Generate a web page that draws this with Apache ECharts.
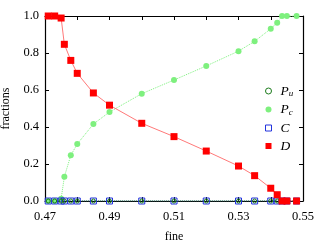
<!DOCTYPE html>
<html><head><meta charset="utf-8">
<script src="https://cdn.jsdelivr.net/npm/echarts@6/dist/echarts.min.js"></script>
<style>html,body{margin:0;padding:0;background:#fff}#c{width:316px;height:244px}</style>
</head><body><div id="c"></div>
<script>
const fine = [0.471,0.473,0.475,0.476,0.478,0.480,0.485,0.490,0.500,0.510,0.520,0.530,0.535,0.540,0.542,0.5435,0.545,0.548];
const Pu = [0,0,0,0,0,0,0,0,0,0,0,0,0,0,0,0,0,0];
const Pc = [0,0,0.012,0.131,0.247,0.308,0.416,0.481,0.580,0.654,0.730,0.810,0.863,0.931,0.964,1,1,1];
const C  = [0,0,0,0,0,0,0,0,0,0,0,0,0,0,0,0,0,0];
const D  = [1,1,0.989,0.847,0.760,0.690,0.584,0.518,0.420,0.348,0.270,0.189,0.137,0.069,0.034,0,0,0];
const xLabels = ['0.47','0.49','0.51','0.53','0.55'];
const yLabels = ['0.0','0.2','0.4','0.6','0.8','1.0'];

const pair = a => fine.map((x,i)=>[x,a[i]]);
const font = 'Liberation Serif';
const sq = 'path://M0,0L10,0L10,10L0,10Z';
const chart = echarts.init(document.getElementById('c'));
const axisCommon = {
  axisLine:{show:true,onZero:false,lineStyle:{color:'#000',width:1.2}},
  axisTick:{show:true,inside:true,length:4,lineStyle:{color:'#000'}},
  splitLine:{show:false}
};
chart.setOption({
  animation:false,
  grid:{left:45,right:13,top:16,bottom:43,outerBoundsMode:'none',containLabel:false},
  xAxis:[
    Object.assign({type:'value',position:'bottom',min:0.47,max:0.55,interval:0.01,
      name:'fine',nameLocation:'middle',nameGap:30,nameTextStyle:{fontFamily:font,fontSize:12,color:'#000'},
      axisLabel:{fontFamily:font,fontSize:12.5,color:'#000',margin:9,
        formatter:v=>{const s=v.toFixed(2);return xLabels.indexOf(s)>=0?s:'';}}},axisCommon),
    Object.assign({type:'value',position:'top',min:0.47,max:0.55,interval:0.01,axisLabel:{show:false}},axisCommon)
  ],
  yAxis:[
    Object.assign({type:'value',position:'left',min:0,max:1,interval:0.2,
      name:'fractions',nameLocation:'middle',nameGap:33,nameTextStyle:{fontFamily:font,fontSize:12,color:'#000'},
      axisLabel:{fontFamily:font,fontSize:12.5,color:'#000',margin:6,
        formatter:v=>{const s=v.toFixed(1);return yLabels.indexOf(s)>=0?s:'';}}},axisCommon),
    Object.assign({type:'value',position:'right',min:0,max:1,interval:0.2,axisLabel:{show:false}},axisCommon)
  ],
  legend:{
    orient:'vertical',left:260,top:79,itemGap:4,itemWidth:14,itemHeight:6,symbolKeepAspect:true,
    data:[
      {name:'Pu',icon:'circle',itemStyle:{color:'#fff',borderColor:'#1a7a1a',borderWidth:1}},
      {name:'Pc',icon:'circle',itemStyle:{color:'#7ef07e',borderWidth:0}},
      {name:'C',icon:sq,itemStyle:{color:'#fff',borderColor:'#2233dd',borderWidth:1}},
      {name:'D',icon:sq,itemStyle:{color:'#ff0000',borderWidth:0}}
    ],
    formatter:n=>n.length>1?'{i|'+n[0]+'}{s|'+n[1]+'}':'{i|'+n+'}',
    textStyle:{fontFamily:font,fontSize:13,color:'#000',
      rich:{i:{fontFamily:font,fontStyle:'italic',fontSize:13.5,color:'#000'},
            s:{fontFamily:font,fontStyle:'italic',fontSize:9,color:'#000',verticalAlign:'bottom',padding:[6,0,0,0]}}}
  },
  series:[
    {name:'Pc',type:'line',data:pair(Pc),symbol:'circle',symbolSize:6,
      itemStyle:{color:'#7ef07e',borderWidth:0},
      lineStyle:{color:'#7ef07e',width:1,type:'dotted'}},
    {name:'C',type:'line',data:pair(C),symbol:'rect',symbolSize:6,
      itemStyle:{color:'rgba(255,255,255,0)',borderColor:'#2233dd',borderWidth:1},
      lineStyle:{color:'#5566cc',width:1,type:'dotted'}},
    {name:'Pu',type:'line',data:pair(Pu),symbol:'circle',symbolSize:4,
      itemStyle:{color:'rgba(255,255,255,0)',borderColor:'#1a7a1a',borderWidth:1},
      lineStyle:{color:'#1a7a1a',width:1,type:'dotted'}},
    {name:'D',type:'line',data:pair(D),symbol:'rect',symbolSize:7,
      itemStyle:{color:'#ff0000',borderWidth:0},
      lineStyle:{color:'#ff5555',width:0.8}}
  ]
});
</script></body></html>
